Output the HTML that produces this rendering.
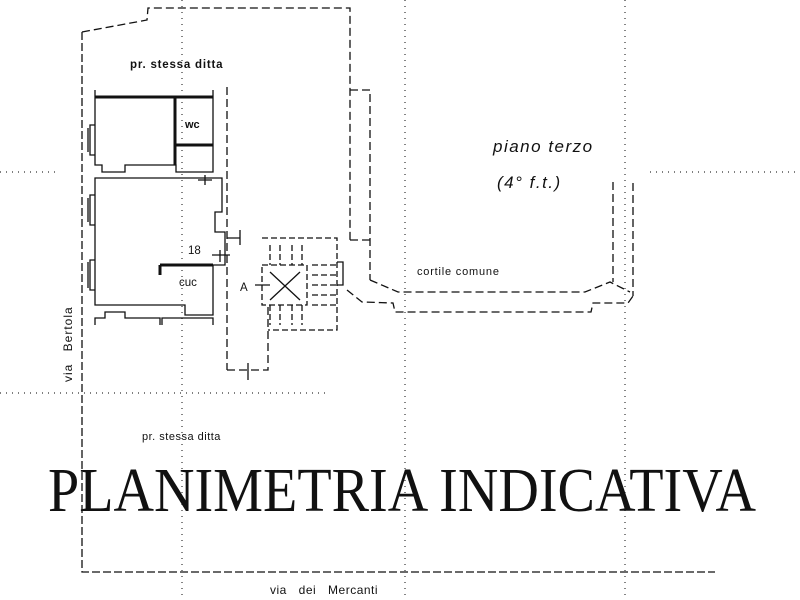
<!DOCTYPE html>
<html><head><meta charset="utf-8"><style>
html,body{margin:0;padding:0;background:#fff;}
svg{display:block;}
text{font-family:"Liberation Sans",sans-serif;fill:#111;}
</style></head><body>
<svg width="800" height="600" viewBox="0 0 800 600" xmlns="http://www.w3.org/2000/svg">
<g fill="none" stroke="#111" stroke-width="1.3">
<path d="M82 32 L147 20 L148 8 L350 8 L350 240" stroke-dasharray="8 4"/>
<path d="M82 32 L82 572 L715 572" stroke-dasharray="8 3"/>
<g stroke-dasharray="1 5" stroke-width="1.2" stroke="#333">
<path d="M182 0 V600"/><path d="M405 0 V600"/><path d="M625 0 V600"/>
<path d="M0 172 H60"/><path d="M650 172 H800"/><path d="M0 393 H330"/>
</g>
<path d="M95 90 V165 H102 V172 H125 V165 H176 V172 H213 V90" />
<path d="M95 97 H213" stroke-width="3"/>
<path d="M175 97 V165" stroke-width="3"/>
<path d="M175 145 H213" stroke-width="3"/>
<path d="M95 125 H90 V155 H95 M88 128 V152"/>
<path d="M95 178 H222 V212 H215 V232 H225 V265 H213 V315 H185 V305 H95 Z"/>
<path d="M160 265 H213 M160 265 V275" stroke-width="3"/>
<path d="M95 195 H90 V225 H95 M95 260 H90 V290 H95 M88 198 V222 M88 262 V288"/>
<path d="M95 325 V318 H105 V312 H125 V318 H160 V325 M162 325 V318 H213 V325"/>
<path d="M205 175 V185 M198 180 H212 M220 250 V262 M212 255 H230"/>
<path d="M227 87 V370 M227 370 H268 V305" stroke-dasharray="8 4"/>
<path d="M227 238 H240 M240 230 V245 M248 363 V380"/>
<g stroke-dasharray="6 3">
<path d="M262 238 H337 V330 H268"/>
<path d="M262 265 H307 V305 H262 Z"/>
<path d="M270 245 V265 M280 245 V265 M292 245 V265 M302 245 V265 M270 305 V325 M280 305 V325 M292 305 V325 M302 305 V325"/>
<path d="M312 265 H337 M312 275 H337 M312 285 H337 M312 295 H337 M312 305 H337"/>
</g>
<path d="M270 272 L300 300 M300 272 L270 300 M255 285 H270"/>
<path d="M337 262 H343 V285 H337"/>
<path d="M350 90 H370 V280 M350 240 H370" stroke-dasharray="8 4"/>
<path d="M370 280 L398 292 L585 292 L610 282 L630 292 M613 182 V282 M633 183 V296" stroke-dasharray="8 4"/>
<path d="M347 290 L362 302 L393 303 L395 312 L591 312 L593 303 L628 303 L633 296" stroke-dasharray="8 4"/>
</g>
<text x="130" y="68" font-size="11.5" font-weight="bold" letter-spacing="0.8">pr. stessa ditta</text>
<text x="185" y="128" font-size="11" font-weight="bold">wc</text>
<text x="188" y="254" font-size="11.5">18</text>
<text x="179" y="286" font-size="11.5">cuc</text>
<text x="240" y="291" font-size="11.5">A</text>
<text x="417" y="275" font-size="11" letter-spacing="0.8">cortile comune</text>
<text x="493" y="152" font-size="17" font-style="italic" letter-spacing="1.5">piano terzo</text>
<text x="497" y="188" font-size="17" font-style="italic" letter-spacing="1.5">(4° f.t.)</text>
<text x="142" y="440" font-size="11" letter-spacing="0.5">pr. stessa ditta</text>
<text x="270" y="594" font-size="12" letter-spacing="0.5" word-spacing="8">via dei Mercanti</text>
<text transform="translate(72,382) rotate(-90)" font-size="12" letter-spacing="1" word-spacing="8">via Bertola</text>
<text x="48" y="511" font-size="62" textLength="708" lengthAdjust="spacingAndGlyphs" style="font-family:'Liberation Serif',serif">PLANIMETRIA INDICATIVA</text>
</svg>
</body></html>
